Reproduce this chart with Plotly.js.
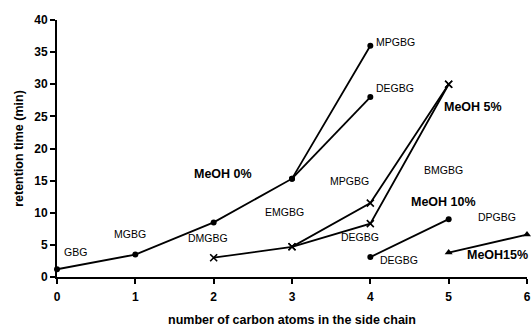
<!DOCTYPE html>
<html><head><meta charset="utf-8">
<script src="https://cdn.plot.ly/plotly-3.0.1.min.js"></script>
<style>html,body{margin:0;padding:0;background:#fff}#chart{width:531px;height:328px}</style>
</head><body><div id="chart"></div>
<script>
// carbon atoms in side chain (x) and retention times (min)
var meoh0MainX = [0, 1, 2, 3, 4];
var meoh0MainY = [1.2, 3.5, 8.5, 15.3, 36.0];
var meoh0BranchX = [3, 4];
var meoh0BranchY = [15.3, 28.0];
var meoh5MainX = [2, 3, 4, 5];
var meoh5MainY = [3.0, 4.7, 11.5, 30.0];
var meoh5BranchX = [3, 4, 5];
var meoh5BranchY = [4.7, 8.3, 30.0];
var meoh10X = [4, 5];
var meoh10Y = [3.1, 9.0];
var meoh15X = [5, 6];
var meoh15Y = [3.8, 6.6];
var xTicks = [0, 1, 2, 3, 4, 5, 6];
var yTicks = [0, 5, 10, 15, 20, 25, 30, 35, 40];
var compoundLabels = ['GBG','MGBG','DMGBG','EMGBG','MPGBG','DEGBG','BMGBG','DEGBG','DPGBG','MPGBG','DEGBG'];
var seriesLabels = ['MeOH 0%','MeOH 5%','MeOH 10%','MeOH15%'];

var lineStyle = {color:'#000', width:1.8};
function tr(x, y, sym, size, mline){
  return {x:x, y:y, type:'scatter', mode:'lines+markers', line:lineStyle,
    marker:{symbol:sym, size:size, color:'#000', line:{color:'#000', width:mline}},
    cliponaxis:false, showlegend:false, hoverinfo:'none'};
}
var data = [
  tr(meoh0MainX, meoh0MainY, 'circle', 6, 0),
  tr(meoh0BranchX, meoh0BranchY, 'circle', 6, 0),
  tr(meoh5MainX, meoh5MainY, 'x-thin', 7, 1.6),
  tr(meoh5BranchX, meoh5BranchY, 'x-thin', 7, 1.6),
  tr(meoh10X, meoh10Y, 'circle', 6, 0),
  tr(meoh15X, meoh15Y, 'triangle-up', 7, 0)
];

var cpos = [[0.23,3.9],[0.93,6.7],[1.93,6.1],[2.91,10.1],[3.74,14.9],[3.87,6.2],[4.93,16.6],[4.36,2.6],[5.62,9.3],[4.32,36.6],[4.32,29.4]];
var spos = [[2.12,16.0],[5.31,26.5],[4.94,11.7],[5.62,3.4]];
var ann = [];
compoundLabels.forEach(function(t,i){
  ann.push({x:cpos[i][0], y:cpos[i][1], xref:'x', yref:'y', text:t, showarrow:false,
    font:{family:'Liberation Sans, Arial, sans-serif', size:10.5, color:'#000'}});
});
seriesLabels.forEach(function(t,i){
  ann.push({x:spos[i][0], y:spos[i][1], xref:'x', yref:'y', text:'<b>'+t+'</b>', showarrow:false,
    font:{family:'Liberation Sans, Arial, sans-serif', size:12.5, color:'#000'}});
});

var layout = {
  width:531, height:328,
  margin:{l:57, r:4, t:20, b:51},
  paper_bgcolor:'#fff', plot_bgcolor:'#fff',
  font:{family:'Liberation Sans, Arial, sans-serif', color:'#000'},
  xaxis:{range:[0,6], tickvals:xTicks, ticktext:xTicks.map(function(v){return '<b>'+v+'</b>';}),
    showgrid:false, zeroline:false, showline:true, linecolor:'#000', linewidth:2,
    ticks:'outside', ticklen:5, tickwidth:2, tickcolor:'#000', ticklabelstandoff:3,
    tickfont:{size:12}, title:{text:'<b>number of carbon atoms in the side chain</b>', font:{size:12.5}, standoff:12}},
  yaxis:{range:[0,40], tickvals:yTicks, ticktext:yTicks.map(function(v){return '<b>'+v+'</b>';}),
    showgrid:false, zeroline:false, showline:true, linecolor:'#000', linewidth:2,
    ticks:'outside', ticklen:5, tickwidth:2, tickcolor:'#000',
    tickfont:{size:12}, title:{text:'<b>retention time (min)</b>', font:{size:12.5}, standoff:8}},
  annotations:ann
};
Plotly.newPlot('chart', data, layout, {staticPlot:true});
</script>
</body></html>
